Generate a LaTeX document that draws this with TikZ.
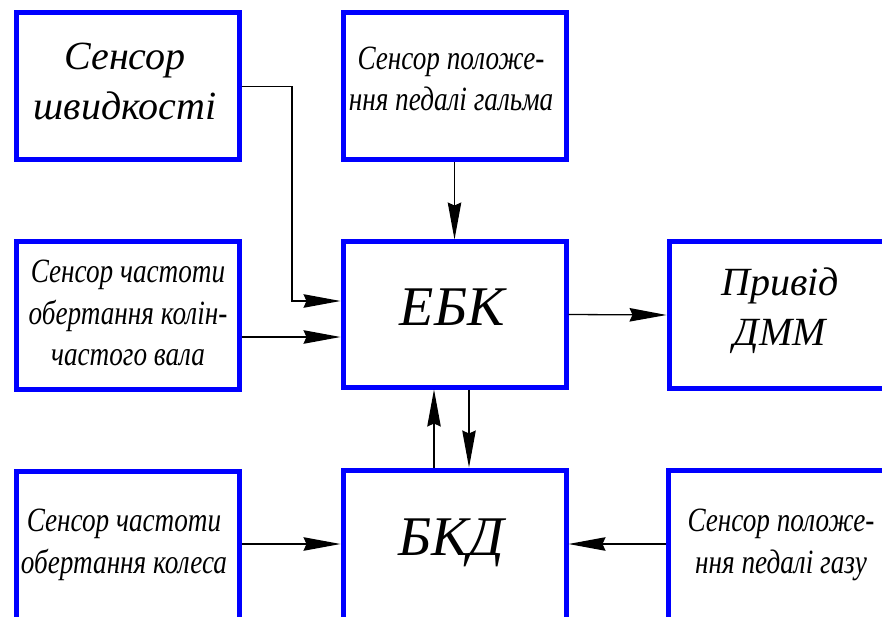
\documentclass[tikz,border=0pt]{standalone}
\usepackage{fontspec}
\setmainfont{Liberation Serif}
\newfontfamily\wideserif{Liberation Serif}
\newfontfamily\narrowserif[FakeStretch=0.8]{Liberation Serif}
\usetikzlibrary{arrows.meta}
\definecolor{boxblue}{RGB}{0,0,255}
\tikzset{
  blockbox/.style={draw=boxblue, line width=5pt, rectangle, inner sep=0pt, fill=white},
  bigtext/.style={font=\wideserif\itshape\fontsize{40}{50}\selectfont, align=center, inner sep=0pt},
  hugetext/.style={font=\wideserif\itshape\fontsize{56}{60}\selectfont, inner sep=0pt},
  smalltext/.style={font=\narrowserif\itshape\fontsize{34}{41.5}\selectfont, align=center, inner sep=0pt},
  conn/.style={line width=1.3pt, -{Stealth[length=37pt, width=13.5pt, inset=3pt]}}
}
\begin{document}
\begin{tikzpicture}[x=1pt, y=-1pt]
  \useasboundingbox (0,0) rectangle (882,617);
  \fill[white] (0,0) rectangle (882,617);
  \clip (0,0) rectangle (882,617);

  % blocks
  \node[blockbox, minimum width=223pt, minimum height=147pt] (speed) at (127.5,86.5) {};
  \node[blockbox, minimum width=223pt, minimum height=147pt] (brake) at (454.5,86.5) {};
  \node[blockbox, minimum width=223pt, minimum height=147pt] (crank) at (127.5,315.5) {};
  \node[blockbox, minimum width=223pt, minimum height=145pt] (ebk) at (454.5,314.5) {};
  \node[blockbox, minimum width=231pt, minimum height=146pt] (drive) at (784.5,315) {};
  \node[blockbox, minimum width=223pt, minimum height=160pt] (bkd) at (454.5,550) {};
  \node[blockbox, minimum width=223pt, minimum height=160pt] (wheel) at (127.5,551) {};
  \node[blockbox, minimum width=232pt, minimum height=160pt] (gas) at (784,550) {};

  % labels
  \node[bigtext] (speedtxt) at (125,82) {Сенсор\\швидкості};
  \node[smalltext] (braketxt) at (451,79) {Сенсор положе-\\ння педалі гальма};
  \node[smalltext] (cranktxt) at (128,313) {Сенсор частоти\\обертання колін-\\частого вала};
  \node[hugetext, anchor=base] (ebktxt) at (452,325) {ЕБК};
  \node[bigtext] (drivetxt) at (780,311) {Привід\\ДММ};
  \node[hugetext, anchor=base] (bkdtxt) at (451.5,555) {БКД};
  \node[smalltext] (wheeltxt) at (124,545) {Сенсор частоти\\обертання колеса};
  \node[smalltext] (gastxt) at (781,545) {Сенсор положе-\\ння педалі газу};

  % routing points
  \coordinate (bend) at (292,301);
  \coordinate (crankrow) at (0,337);
  \coordinate (lowrow) at (0,544);
  \coordinate (upcol) at (434,0);
  \coordinate (downcol) at (469,0);

  % connectors
  \draw[conn] (speed.east) -| (bend) -- (ebk.west |- bend);
  \draw[conn] (crank.east |- crankrow) -- (ebk.west |- crankrow);
  \draw[conn] (brake.south) -- (ebk.north);
  \draw[conn] (ebk.east) -- (drive.west);
  \draw[conn] (bkd.north -| upcol) -- (ebk.south -| upcol);
  \draw[conn] (ebk.south -| downcol) -- (bkd.north -| downcol);
  \draw[conn] (wheel.east |- lowrow) -- (bkd.west |- lowrow);
  \draw[conn] (gas.west |- lowrow) -- (bkd.east |- lowrow);
\end{tikzpicture}
\end{document}
